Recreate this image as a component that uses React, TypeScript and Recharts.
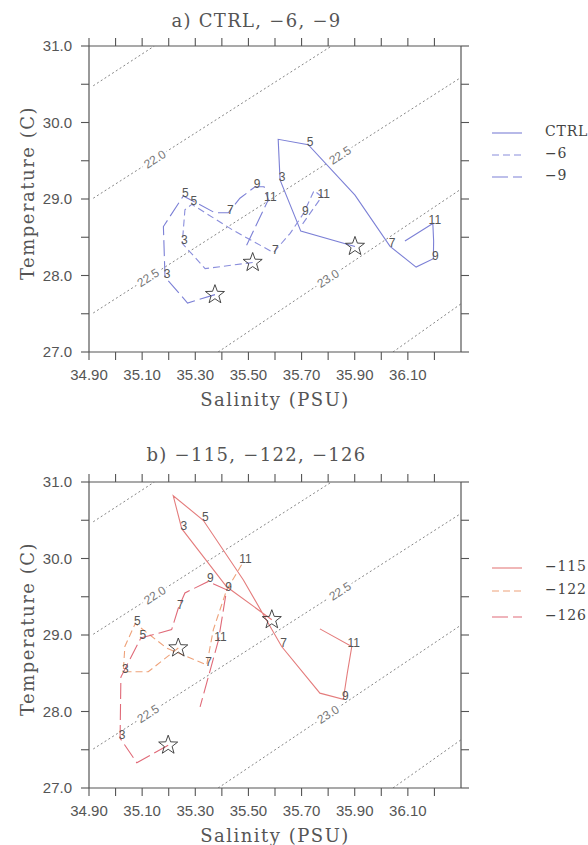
import React from 'react';
import { ComposedChart, Line, Scatter, XAxis, YAxis, Legend, LabelList } from 'recharts';

// ---------- axes ----------
const X_DOMAIN = [34.9, 36.3];
const Y_DOMAIN = [27, 31];
const X_TICKS = [34.9, 35.0, 35.1, 35.2, 35.3, 35.4, 35.5, 35.6, 35.7, 35.8, 35.9, 36.0, 36.1, 36.2];
const X_LABELS = ['34.90', '35.10', '35.30', '35.50', '35.70', '35.90', '36.10'];
const Y_TICKS = [27, 27.5, 28, 28.5, 29, 29.5, 30, 30.5, 31];
const Y_LABELS = ['27.0', '28.0', '29.0', '30.0', '31.0'];
const MONTH_TAGS = ['', '', '3', '', '5', '', '7', '', '9', '', '11', ''];

// ---------- isopycnals (sigma-t) ----------
const ISO_NAMES = ['21.5', '22.0', '22.5', '23.0', '23.5'];
const ISO_S_START = [34.916, 34.916, 34.916, 35.386, 36.044];
const ISO_T_START = [30.48, 29.01, 27.51, 27.0, 27.0];
const ISO_S_END = [35.146, 35.813, 36.296, 36.296, 36.3];
const ISO_T_END = [31.0, 31.0, 30.58, 29.12, 27.63];
const CL_TEXT = ['22.0', '22.5', '22.5', '23.0'];
const CL_S = [35.148, 35.845, 35.123, 35.8];
const CL_T = [29.52, 29.57, 27.97, 27.96];

// ---------- panel a ----------
const A_NAMES = ['CTRL', '\u22126', '\u22129'];
const CTRL_S = [35.901, 35.697, 35.619, 35.612, 35.725, 35.901, 36.033, 36.131, 36.196, 36.197, 36.194, 36.089];
const CTRL_T = [28.38, 28.58, 29.25, 29.78, 29.71, 29.05, 28.38, 28.11, 28.22, 28.45, 28.68, 28.45];
const M6_S = [35.516, 35.337, 35.251, 35.261, 35.287, 35.443, 35.594, 35.657, 35.707, 35.747, 35.776, 35.697];
const M6_T = [28.17, 28.09, 28.42, 28.86, 28.93, 28.59, 28.3, 28.55, 28.81, 29.11, 29.03, 28.64];
const M9_S = [35.374, 35.271, 35.186, 35.18, 35.255, 35.374, 35.424, 35.468, 35.525, 35.559, 35.575, 35.491];
const M9_T = [27.75, 27.64, 27.98, 28.64, 29.04, 28.82, 28.82, 29.01, 29.16, 29.16, 28.99, 28.38];

// ---------- panel b ----------
const B_NAMES = ['\u2212115', '\u2212122', '\u2212126'];
const M115_S = [35.588, 35.418, 35.249, 35.217, 35.33, 35.481, 35.625, 35.769, 35.857, 35.872, 35.889, 35.769];
const M115_T = [29.2, 29.63, 30.39, 30.82, 30.5, 29.72, 28.85, 28.24, 28.16, 28.5, 28.85, 29.08];
const M122_S = [35.236, 35.123, 35.029, 35.035, 35.074, 35.192, 35.343, 35.368, 35.418, 35.456, 35.481];
const M122_T = [28.83, 28.52, 28.52, 28.85, 29.15, 28.83, 28.61, 29.07, 29.59, 29.81, 29.96];
const M126_S = [35.198, 35.08, 35.017, 35.02, 35.095, 35.211, 35.236, 35.261, 35.349, 35.418, 35.387, 35.318];
const M126_T = [27.56, 27.33, 27.65, 28.45, 28.96, 29.07, 29.35, 29.55, 29.7, 29.59, 28.93, 28.06];

const toPts = (s: number[], t: number[]) => s.map((v, i) => ({ S: v, T: t[i] }));

const AXIS = '#555';
const TEXT = '#555';
const SERIF = '"DejaVu Serif", serif';
const SANS = '"Liberation Sans", Arial, sans-serif';

function StarShape(props: any) {
  const { cx, cy } = props;
  if (cx == null || cy == null) return null;
  const R = 10;
  const r = 4.1;
  let d = '';
  for (let k = 0; k < 10; k++) {
    const rad = k % 2 === 0 ? R : r;
    const a = -Math.PI / 2 + (k * Math.PI) / 5;
    d += (k === 0 ? 'M' : 'L') + (cx + rad * Math.cos(a)).toFixed(2) + ',' + (cy + rad * Math.sin(a)).toFixed(2);
  }
  return <path d={d + 'Z'} fill="none" stroke="#333" strokeWidth={0.9} />;
}

function ContourLabel(props: any) {
  const { cx, cy, payload } = props;
  if (cx == null || cy == null) return null;
  return (
    <g transform={`rotate(-32.7 ${cx} ${cy})`}>
      <rect x={cx - 14} y={cy - 6} width={28} height={12} fill="#fff" />
      <text x={cx} y={cy} textAnchor="middle" dominantBaseline="central" fontSize={12} fill="#777" fontFamily={SANS}>
        {payload.label}
      </text>
    </g>
  );
}

const monthLabel = (p: any) => {
  const tag = MONTH_TAGS[p.index];
  if (!tag || p.x == null) return null;
  return (
    <text x={p.x + 2} y={p.y + 1} textAnchor="middle" fontSize={12} fill="#555" fontFamily={SANS}>
      {tag}
    </text>
  );
};

const fmtX = (v: number) => {
  const s = v.toFixed(2);
  return X_LABELS.includes(s) ? s : '';
};
const fmtY = (v: number) => {
  const s = v.toFixed(1);
  return Y_LABELS.includes(s) ? s : '';
};

type PanelProps = {
  pageTop: number;
  height: number;
  mTop: number;
  mBottom: number;
  axisH: number;
  title: string;
  titleY: number;
  names: string[];
  sData: number[][];
  tData: number[][];
  colors: string[];
  dashes: (string | undefined)[];
  legendTop: number;
  legendRows: number[];
};

function Panel(p: PanelProps) {
  const contourLabels = CL_TEXT.map((l, i) => ({ S: CL_S[i], T: CL_T[i], label: l }));
  const stars = p.sData.map((s, i) => ({ S: s[0], T: p.tData[i][0] }));
  const tickStyle = { fill: TEXT, fontSize: 15, fontFamily: SANS };
  const legend = () => (
    <svg width={110} height={80} style={{ overflow: 'visible' }}>
      {p.names.map((n, i) => (
        <g key={n}>
          <line x1={23} x2={53} y1={p.legendRows[i]} y2={p.legendRows[i]} stroke={p.colors[i]} strokeWidth={1.1} strokeDasharray={p.dashes[i]} />
          <text x={76} y={p.legendRows[i] - 2} dominantBaseline="central" fontSize={14} letterSpacing={0.8} fill="#444" fontFamily={SERIF}>
            {n}
          </text>
        </g>
      ))}
    </svg>
  );
  return (
    <div style={{ position: 'absolute', left: 0, top: p.pageTop, width: 588, height: p.height }}>
      <ComposedChart width={588} height={p.height} margin={{ top: p.mTop, right: 9, bottom: p.mBottom, left: 29 }}>
        <XAxis
          xAxisId={0}
          type="number"
          dataKey="S"
          domain={X_DOMAIN}
          allowDataOverflow
          ticks={X_TICKS}
          interval={0}
          tickFormatter={fmtX}
          tickSize={8}
          tickMargin={9}
          height={p.axisH}
          tick={tickStyle}
          axisLine={{ stroke: AXIS, strokeWidth: 1.2 }}
          tickLine={{ stroke: AXIS, strokeWidth: 1.1 }}
          label={{
            content: (lp: any) => {
              const vb = lp.viewBox || { x: 89, y: 352, width: 372 };
              return (
                <text x={vb.x + vb.width / 2} y={vb.y + 47} textAnchor="middle" dominantBaseline="central" fontSize={18} letterSpacing={1.5} fill={TEXT} fontFamily={SERIF}>
                  Salinity (PSU)
                </text>
              );
            },
          }}
        />
        <XAxis
          xAxisId="t"
          orientation="top"
          type="number"
          dataKey="S"
          domain={X_DOMAIN}
          allowDataOverflow
          ticks={X_TICKS}
          interval={0}
          tickFormatter={() => ''}
          tickSize={8}
          height={8}
          axisLine={{ stroke: AXIS, strokeWidth: 1.2 }}
          tickLine={{ stroke: AXIS, strokeWidth: 1.1 }}
        />
        <YAxis
          yAxisId={0}
          type="number"
          dataKey="T"
          domain={Y_DOMAIN}
          allowDataOverflow
          ticks={Y_TICKS}
          interval={0}
          tickFormatter={fmtY}
          tickSize={8}
          tickMargin={9}
          width={60}
          tick={tickStyle}
          axisLine={{ stroke: AXIS, strokeWidth: 1.2 }}
          tickLine={{ stroke: AXIS, strokeWidth: 1.1 }}
          label={{
            content: (lp: any) => {
              const vb = lp.viewBox || { x: 29, y: 46, height: 306 };
              const cx = vb.x - 2;
              const cy = vb.y + vb.height / 2 - 6;
              return (
                <text x={cx} y={cy} transform={`rotate(-90 ${cx} ${cy})`} textAnchor="middle" dominantBaseline="central" fontSize={18} letterSpacing={1.5} fill={TEXT} fontFamily={SERIF}>
                  Temperature (C)
                </text>
              );
            },
          }}
        />
        <YAxis
          yAxisId="r"
          orientation="right"
          type="number"
          dataKey="T"
          domain={Y_DOMAIN}
          allowDataOverflow
          ticks={Y_TICKS}
          interval={0}
          tickFormatter={() => ''}
          tickSize={8}
          width={8}
          axisLine={{ stroke: AXIS, strokeWidth: 1.2 }}
          tickLine={{ stroke: AXIS, strokeWidth: 1.1 }}
        />
        {ISO_NAMES.map((n, i) => (
          <Line
            key={'iso' + n}
            data={[
              { S: ISO_S_START[i], T: ISO_T_START[i] },
              { S: ISO_S_END[i], T: ISO_T_END[i] },
            ]}
            dataKey="T"
            stroke="#777"
            strokeWidth={0.9}
            strokeDasharray="2 2.5"
            dot={false}
            activeDot={false}
            legendType="none"
            isAnimationActive={false}
          />
        ))}
        <Scatter data={contourLabels} dataKey="T" shape={ContourLabel} legendType="none" isAnimationActive={false} />
        {p.names.map((n, i) => (
          <Line
            key={n}
            name={n}
            data={toPts(p.sData[i], p.tData[i])}
            dataKey="T"
            stroke={p.colors[i]}
            strokeWidth={1.1}
            strokeDasharray={p.dashes[i]}
            dot={false}
            activeDot={false}
            isAnimationActive={false}
          >
            <LabelList dataKey="T" content={monthLabel} />
          </Line>
        ))}
        <Scatter data={stars} dataKey="T" shape={StarShape} legendType="none" isAnimationActive={false} />
        <Legend
          layout="vertical"
          align="right"
          verticalAlign="top"
          wrapperStyle={{ left: 469, top: p.legendTop, width: 110, height: 80 }}
          content={legend}
        />
      </ComposedChart>
      <div
        style={{
          position: 'absolute',
          left: 0,
          width: 513,
          top: p.titleY - 12,
          height: 24,
          lineHeight: '24px',
          textAlign: 'center',
          fontFamily: SERIF,
          fontSize: 18,
          letterSpacing: 1.3,
          color: TEXT,
          whiteSpace: 'nowrap',
        }}
      >
        {p.title}
      </div>
    </div>
  );
}

export default function App() {
  return (
    <div style={{ position: 'absolute', left: 0, top: 0, width: 588, height: 845, background: '#fff', overflow: 'hidden' }}>
      <Panel
        pageTop={0}
        height={420}
        mTop={38}
        mBottom={8}
        axisH={60}
        title={'a) CTRL, \u22126, \u22129'}
        titleY={21}
        names={A_NAMES}
        sData={[CTRL_S, M6_S, M9_S]}
        tData={[CTRL_T, M6_T, M9_T]}
        colors={['#7c80d6', '#8a8edc', '#7c80d6']}
        dashes={[undefined, '7 4', '16 5']}
        legendTop={118}
        legendRows={[15, 37, 59]}
      />
      <Panel
        pageTop={430}
        height={415}
        mTop={44}
        mBottom={0}
        axisH={57}
        title={'b) \u2212115, \u2212122, \u2212126'}
        titleY={25}
        names={B_NAMES}
        sData={[M115_S, M122_S, M126_S]}
        tData={[M115_T, M122_T, M126_T]}
        colors={['#e47c7c', '#eea27a', '#e06a78']}
        dashes={[undefined, '7 4', '16 5']}
        legendTop={120}
        legendRows={[18, 41, 67]}
      />
    </div>
  );
}
